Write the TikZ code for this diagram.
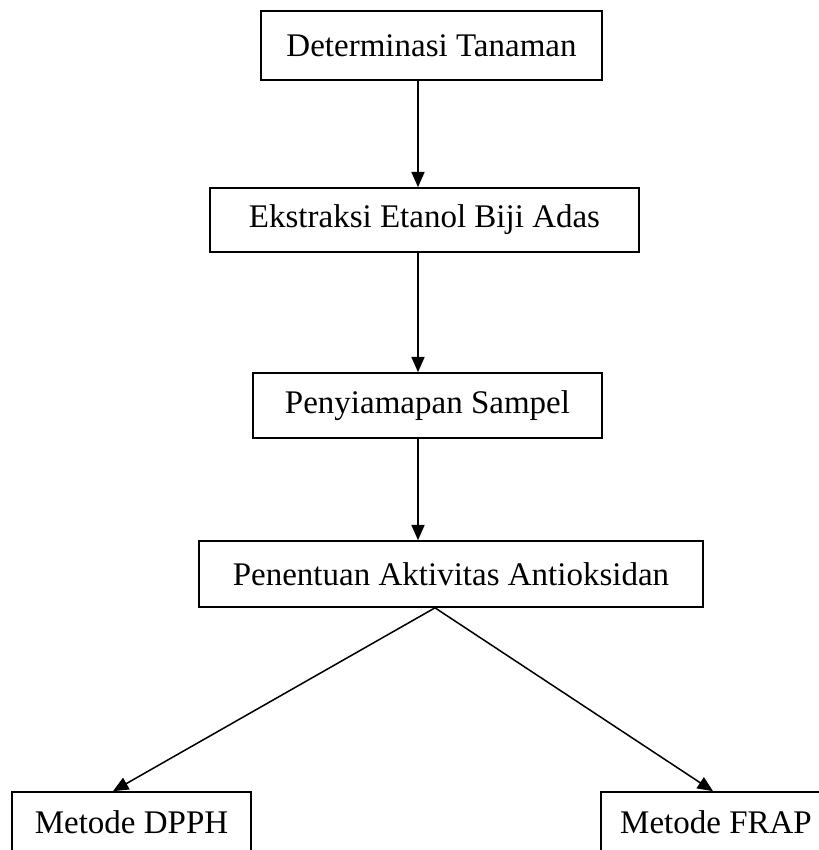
\documentclass[tikz,border=0pt]{standalone}
\usepackage{fontspec}
\setmainfont{Liberation Serif}
\usetikzlibrary{arrows.meta}
\newcommand{\unitpx}{0.3636pt}
\begin{document}
\begin{tikzpicture}
[x=\unitpx,y=-\unitpx,
box/.style={rectangle,draw=black,line width=0.6pt,inner sep=0pt,font=\fontsize{12}{14}\selectfont},
arr/.style={line width=0.55pt,-{Triangle[width=4.8pt,length=5.6pt]}}]
					\useasboundingbox (0,0) rectangle (819,850);
					\node[box,minimum width=341*\unitpx,minimum height=69*\unitpx] (det) at (431.5,45.5) {Determinasi Tanaman};
					\node[box,minimum width=429*\unitpx,minimum height=64*\unitpx] (eks) at (424.5,220) {Ekstraksi Etanol Biji Adas};
					\node[box,minimum width=349*\unitpx,minimum height=65*\unitpx] (sam) at (427.5,405.5) {Penyiamapan Sampel};
					\node[box,minimum width=504*\unitpx,minimum height=66*\unitpx] (pen) at (451,574) {Penentuan Aktivitas Antioksidan};
					\node[box,minimum width=239*\unitpx,minimum height=60*\unitpx] (dpph) at (131.5,822) {Metode DPPH};
					\node[box,minimum width=230*\unitpx,minimum height=60*\unitpx] (frap) at (716,822) {Metode FRAP};
					\coordinate (axis) at (418,0);
					\coordinate (split) at (435,0);
					\coordinate (tipL) at (113,0);
					\coordinate (tipR) at (713,0);
					\draw[arr] (det.south -| axis) -- (eks.north -| axis);
					\draw[arr] (eks.south -| axis) -- (sam.north -| axis);
					\draw[arr] (sam.south -| axis) -- (pen.north -| axis);
					\draw[arr] (pen.south -| split) -- (dpph.north -| tipL);
					\draw[arr] (pen.south -| split) -- (frap.north -| tipR);
				\end{tikzpicture}
\end{document}
